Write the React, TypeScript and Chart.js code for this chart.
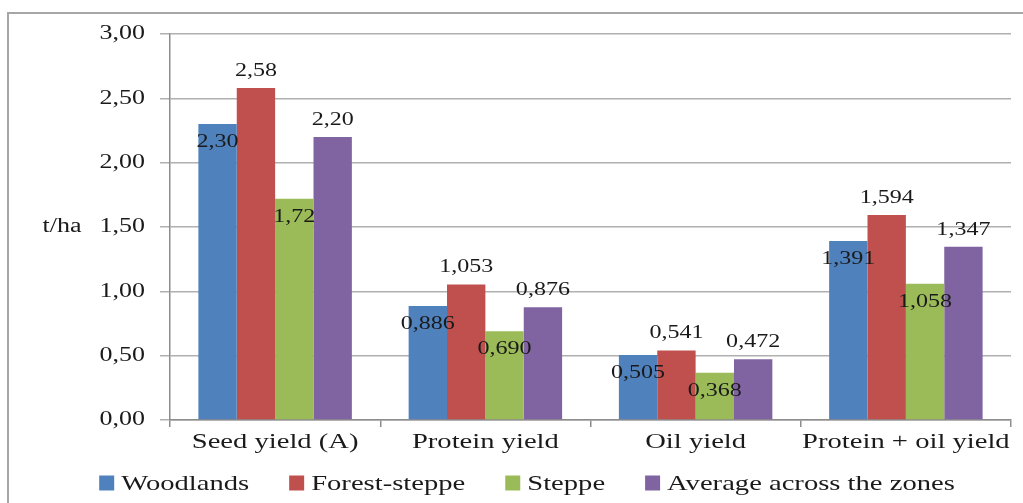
import React, { useEffect, useRef } from "react";
import { Chart, registerables } from "chart.js";

Chart.register(...registerables);

// Yields per zone, t/ha
const categories = ["Seed yield (A)", "Protein yield", "Oil yield", "Protein + oil yield"];
const woodlands = [2.3, 0.886, 0.505, 1.391];
const forestSteppe = [2.58, 1.053, 0.541, 1.594];
const steppe = [1.72, 0.69, 0.368, 1.058];
const average = [2.2, 0.876, 0.472, 1.347];

const seriesNames = ["Woodlands", "Forest-steppe", "Steppe", "Average across the zones"];
const seriesColors = ["#4F81BD", "#C0504D", "#9BBB59", "#8064A2"];
// decimals shown in the value labels, per category
const labelDecimals = [2, 3, 3, 3];
// value label sits just inside the bar top (true) or above it (false), per series
const labelInside = [true, false, true, false];
const yTicks = [0, 0.5, 1, 1.5, 2, 2.5, 3];
const yUnit = "t/ha";

const FONT = "'Liberation Serif', 'Times New Roman', serif";
const TEXT_COLOR = "#1a1a1a";
// all lettering is set slightly wide
const STRETCH = 1.3;

const fmt = (v: number, d: number) => v.toFixed(d).replace(".", ",");

function wideText(ctx: CanvasRenderingContext2D, text: string, x: number, y: number, align: CanvasTextAlign) {
  ctx.save();
  ctx.translate(x, y);
  ctx.scale(STRETCH, 1);
  ctx.textAlign = align;
  ctx.textBaseline = "middle";
  ctx.fillText(text, 0, 0);
  ctx.restore();
}

const framePlugin = {
  id: "frame",
  beforeDraw(chart: any) {
    const { ctx, width, height } = chart;
    ctx.save();
    ctx.strokeStyle = "#a6a6a6";
    ctx.lineWidth = 2;
    ctx.beginPath();
    ctx.moveTo(width, 13);
    ctx.lineTo(8, 13);
    ctx.lineTo(8, height);
    ctx.stroke();
    ctx.restore();
  },
};

const axisTextPlugin = {
  id: "axisText",
  afterDraw(chart: any) {
    const { ctx, chartArea, scales } = chart;
    ctx.save();
    ctx.fillStyle = TEXT_COLOR;
    // y tick labels
    ctx.font = `20px ${FONT}`;
    const yRight = scales.y.right - 10 - 15;
    yTicks.forEach((v) => {
      wideText(ctx, fmt(v, 2), yRight, scales.y.getPixelForValue(v), "right");
    });
    // unit label
    wideText(ctx, yUnit, 62, (chartArea.top + chartArea.bottom) / 2, "center");
    // category labels
    ctx.font = `22px ${FONT}`;
    categories.forEach((c, i) => {
      wideText(ctx, c, scales.x.getPixelForValue(i), scales.x.top + 22, "center");
    });
    ctx.restore();
  },
};

const valueLabelPlugin = {
  id: "valueLabels",
  afterDatasetsDraw(chart: any) {
    const { ctx } = chart;
    ctx.save();
    ctx.font = `18.5px ${FONT}`;
    ctx.fillStyle = TEXT_COLOR;
    chart.data.datasets.forEach((ds: any, di: number) => {
      const meta = chart.getDatasetMeta(di);
      meta.data.forEach((el: any, i: number) => {
        const text = fmt(ds.data[i], labelDecimals[i]);
        const y = labelInside[di] ? el.y + 18 : el.y - 17;
        wideText(ctx, text, el.x, y, "center");
      });
    });
    ctx.restore();
  },
};

const legendPlugin = {
  id: "bottomLegend",
  afterDraw(chart: any) {
    const { ctx } = chart;
    const box = 15;
    const textGap = 7;
    const itemGap = 40;
    ctx.save();
    ctx.font = `22px ${FONT}`;
    const widths = seriesNames.map((n) => box + textGap + ctx.measureText(n).width * STRETCH);
    const total = widths.reduce((a, b) => a + b, 0) + itemGap * (widths.length - 1);
    let x = 527 - total / 2;
    const cy = 483;
    seriesNames.forEach((n, i) => {
      ctx.fillStyle = seriesColors[i];
      ctx.fillRect(x, cy - box / 2, box, box);
      ctx.fillStyle = TEXT_COLOR;
      wideText(ctx, n, x + box + textGap, cy + 1, "left");
      x += widths[i] + itemGap;
    });
    ctx.restore();
  },
};

export default function App() {
  const ref = useRef<HTMLCanvasElement>(null);

  useEffect(() => {
    if (!ref.current) return;
    const seriesData = [woodlands, forestSteppe, steppe, average];
    const chart = new Chart(ref.current, {
      type: "bar",
      data: {
        labels: categories,
        datasets: seriesData.map((d, i) => ({
          label: seriesNames[i],
          data: d,
          backgroundColor: seriesColors[i],
          borderWidth: 0,
          categoryPercentage: 0.73,
          barPercentage: 1,
        })),
      },
      options: {
        responsive: false,
        animation: false,
        layout: { padding: { top: 34, right: 12, left: 0, bottom: 0 } },
        plugins: {
          legend: { display: false },
          tooltip: { enabled: false },
        },
        scales: {
          x: {
            afterFit: (s: any) => {
              s.height = 83;
            },
            grid: {
              offset: true,
              drawOnChartArea: false,
              drawTicks: true,
              tickLength: 7,
              color: "#8c8c8c",
              lineWidth: 1.5,
            },
            border: { color: "#8c8c8c", width: 1.5 },
            ticks: { display: false },
          },
          y: {
            min: 0,
            max: 3,
            afterFit: (s: any) => {
              s.width = 170;
            },
            afterBuildTicks: (s: any) => {
              s.ticks = yTicks.map((v) => ({ value: v }));
            },
            grid: {
              color: "#b0b0b0",
              lineWidth: 1.5,
              tickLength: 10,
            },
            border: { color: "#8c8c8c", width: 1.5 },
            ticks: { display: false },
          },
        },
      },
      plugins: [framePlugin, valueLabelPlugin, axisTextPlugin, legendPlugin],
    });
    return () => chart.destroy();
  }, []);

  return (
    <div style={{ position: "fixed", left: 0, top: 0, width: 1023, height: 503, background: "#fff" }}>
      <canvas ref={ref} width={1023} height={503} style={{ display: "block" }} />
    </div>
  );
}
